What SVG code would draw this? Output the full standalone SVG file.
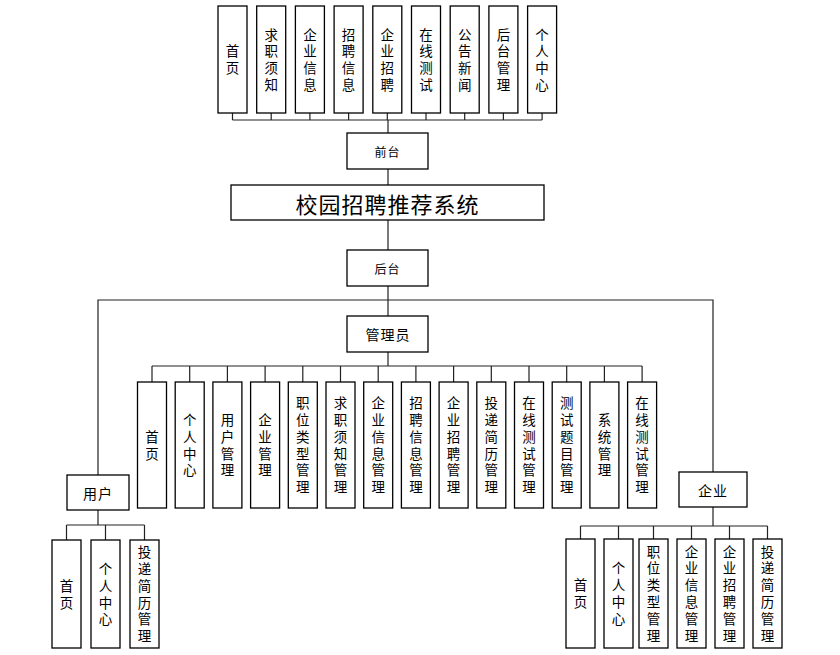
<svg xmlns="http://www.w3.org/2000/svg" width="840" height="655" viewBox="0 0 840 655">
<style>
rect{fill:#fff;stroke:#000;stroke-width:1.3}
text{font-family:"Noto Sans CJK SC","Noto Sans",sans-serif;fill:#000;text-anchor:middle;dominant-baseline:central}
.v{font-size:13.5px;writing-mode:vertical-rl;letter-spacing:3.3px}
.m{font-size:14px;letter-spacing:1px}
.s{font-size:12px;letter-spacing:1px}
.t{font-size:22px;letter-spacing:1px}
#connectors path{fill:none;stroke:#222;stroke-width:1.2}
</style>
<rect x="0" y="0" width="840" height="655" style="stroke:none;fill:#fff"/>
<g id="connectors">
<path d="M232.5 113V120M271.2 113V120M309.9 113V120M348.6 113V120M387.3 113V120M426 113V120M464.7 113V120M503.4 113V120M542.1 113V120M232.5 120H542.1M388 120V133"/>
<path d="M388 169V185M388 220V250M388 286V316"/>
<path d="M98 475V300H713V472"/>
<path d="M388 352V366M152 366H642.1M152 366V382M189.7 366V382M227.4 366V382M265.1 366V382M302.8 366V382M340.5 366V382M378.2 366V382M415.9 366V382M453.6 366V382M491.3 366V382M529 366V382M566.7 366V382M604.4 366V382M642.1 366V382"/>
<path d="M98 510V525M66.5 525H144.5M66.5 525V540M105.5 525V540M144.5 525V540"/>
<path d="M713 507V526M580.5 526H767.5M580.5 526V539M618.5 526V539M653.5 526V539M691.5 526V539M729.5 526V539M767.5 526V539"/>
</g>
<!-- top row -->
<g id="f1"><rect x="218" y="6" width="29" height="107"/><text class="v" x="232.5" y="61.3">首页</text></g>
<g id="f2"><rect x="256.7" y="6" width="29" height="107"/><text class="v" x="271.2" y="61.3">求职须知</text></g>
<g id="f3"><rect x="295.4" y="6" width="29" height="107"/><text class="v" x="309.9" y="61.3">企业信息</text></g>
<g id="f4"><rect x="334.1" y="6" width="29" height="107"/><text class="v" x="348.6" y="61.3">招聘信息</text></g>
<g id="f5"><rect x="372.8" y="6" width="29" height="107"/><text class="v" x="387.3" y="61.3">企业招聘</text></g>
<g id="f6"><rect x="411.5" y="6" width="29" height="107"/><text class="v" x="426" y="61.3">在线测试</text></g>
<g id="f7"><rect x="450.2" y="6" width="29" height="107"/><text class="v" x="464.7" y="61.3">公告新闻</text></g>
<g id="f8"><rect x="488.9" y="6" width="29" height="107"/><text class="v" x="503.4" y="61.3">后台管理</text></g>
<g id="f9"><rect x="527.6" y="6" width="29" height="107"/><text class="v" x="542.1" y="61.3">个人中心</text></g>
<!-- center column -->
<g id="qiantai"><rect x="347" y="133" width="81" height="36"/><text class="s" x="387.5" y="151">前台</text></g>
<g id="title"><rect x="231" y="185" width="313" height="35"/><text class="t" x="387.5" y="202.5">校园招聘推荐系统</text></g>
<g id="houtai"><rect x="347" y="250" width="81" height="36"/><text class="s" x="387.5" y="268">后台</text></g>
<g id="admin"><rect x="347" y="316" width="81" height="36"/><text class="m" x="388" y="334">管理员</text></g>
<!-- admin children -->
<g id="a1"><rect x="137.5" y="382" width="29" height="126"/><text class="v" x="152" y="446.7">首页</text></g>
<g id="a2"><rect x="175.2" y="382" width="29" height="126"/><text class="v" x="189.7" y="446.7">个人中心</text></g>
<g id="a3"><rect x="212.9" y="382" width="29" height="126"/><text class="v" x="227.4" y="446.7">用户管理</text></g>
<g id="a4"><rect x="250.6" y="382" width="29" height="126"/><text class="v" x="265.1" y="446.7">企业管理</text></g>
<g id="a5"><rect x="288.3" y="382" width="29" height="126"/><text class="v" x="302.8" y="446.7">职位类型管理</text></g>
<g id="a6"><rect x="326" y="382" width="29" height="126"/><text class="v" x="340.5" y="446.7">求职须知管理</text></g>
<g id="a7"><rect x="363.7" y="382" width="29" height="126"/><text class="v" x="378.2" y="446.7">企业信息管理</text></g>
<g id="a8"><rect x="401.4" y="382" width="29" height="126"/><text class="v" x="415.9" y="446.7">招聘信息管理</text></g>
<g id="a9"><rect x="439.1" y="382" width="29" height="126"/><text class="v" x="453.6" y="446.7">企业招聘管理</text></g>
<g id="a10"><rect x="476.8" y="382" width="29" height="126"/><text class="v" x="491.3" y="446.7">投递简历管理</text></g>
<g id="a11"><rect x="514.5" y="382" width="29" height="126"/><text class="v" x="529" y="446.7">在线测试管理</text></g>
<g id="a12"><rect x="552.2" y="382" width="29" height="126"/><text class="v" x="566.7" y="446.7">测试题目管理</text></g>
<g id="a13"><rect x="589.9" y="382" width="29" height="126"/><text class="v" x="604.4" y="446.7">系统管理</text></g>
<g id="a14"><rect x="627.6" y="382" width="29" height="126"/><text class="v" x="642.1" y="446.7">在线测试管理</text></g>
<!-- user -->
<g id="user"><rect x="67" y="475" width="62" height="35"/><text class="m" x="98" y="492.5">用户</text></g>
<g id="u1"><rect x="52" y="540" width="29" height="108"/><text class="v" x="66.5" y="595.7">首页</text></g>
<g id="u2"><rect x="91" y="540" width="29" height="108"/><text class="v" x="105.5" y="595.7">个人中心</text></g>
<g id="u3"><rect x="130" y="540" width="29" height="108"/><text class="v" x="144.5" y="595.7">投递简历管理</text></g>
<!-- enterprise -->
<g id="company"><rect x="679" y="472" width="68" height="35"/><text class="m" x="713" y="489.5">企业</text></g>
<g id="c1"><rect x="566" y="539" width="29" height="109"/><text class="v" x="580.5" y="595.2">首页</text></g>
<g id="c2"><rect x="604" y="539" width="29" height="109"/><text class="v" x="618.5" y="595.2">个人中心</text></g>
<g id="c3"><rect x="639" y="539" width="29" height="109"/><text class="v" x="653.5" y="595.2">职位类型管理</text></g>
<g id="c4"><rect x="677" y="539" width="29" height="109"/><text class="v" x="691.5" y="595.2">企业信息管理</text></g>
<g id="c5"><rect x="715" y="539" width="29" height="109"/><text class="v" x="729.5" y="595.2">企业招聘管理</text></g>
<g id="c6"><rect x="753" y="539" width="29" height="109"/><text class="v" x="767.5" y="595.2">投递简历管理</text></g>
</svg>
